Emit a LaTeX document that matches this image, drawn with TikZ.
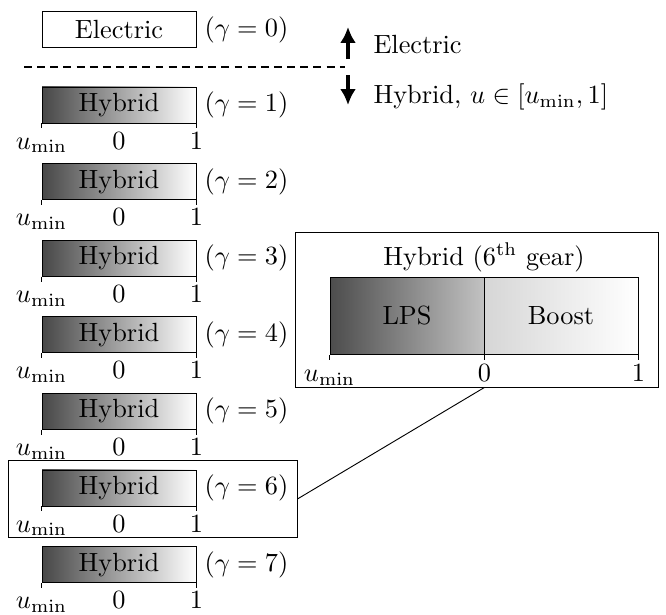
\documentclass[tikz,border=0pt]{standalone}
\usetikzlibrary{arrows.meta}
\begin{document}
\begin{tikzpicture}[x=0.38pt,y=-0.38pt,
  box/.style={draw,line width=0.35pt,minimum width=58.5pt,minimum height=13.7pt,inner sep=0pt},
  hyb/.style={box,left color=black!72,middle color=black!22,right color=white},
  lps/.style={draw,line width=0.35pt,minimum width=58.5pt,minimum height=29.6pt,inner sep=0pt,left color=black!70,right color=black!24},
  boost/.style={draw,line width=0.35pt,minimum width=58.5pt,minimum height=29.6pt,inner sep=0pt,left color=black!16,right color=white},
  gam/.style={anchor=west,inner sep=0pt},
  tick/.style={line width=0.35pt},
  lab/.style={anchor=base,inner sep=0pt},
  frm/.style={draw,line width=0.35pt,inner sep=0pt},
  bigarrow/.style={line width=1.4pt,-{Latex[length=6pt,width=6pt]}}]
\useasboundingbox (0,0) rectangle (666,615);
% Electric
\node[box] (e0) at (119,29.5) {Electric};
\node[gam] (g0) at (204,29.5) {$(\gamma=0)$};
% dashed separator
\coordinate (dl) at (24,67);
\coordinate (dr) at (345,67);
\draw[line width=0.8pt,dash pattern=on 3pt off 2pt] (dl) -- (dr);
% arrows
\coordinate (ua) at (348,59);
\coordinate (ub) at (348,27);
\coordinate (da) at (348,75);
\coordinate (db) at (348,105);
\draw[bigarrow] (ua) -- (ub);
\draw[bigarrow] (da) -- (db);
\node[anchor=west,inner sep=0pt] (te) at (373,45) {Electric};
\node[anchor=west,inner sep=0pt] (th) at (373,97) {Hybrid, $u\in[u_{\min},1]$};
% hybrid rows
\foreach \k in {1,...,7}{
  \pgfmathsetmacro{\yc}{105+76.6*(\k-1)}
  \node[hyb] (h\k) at (119,\yc) {Hybrid};
  \node[gam] (g\k) at (204,\yc) {$(\gamma=\k)$};
  \draw[tick] (h\k.south west) -- ++(0,5);
  \draw[tick] (h\k.south east) -- ++(0,5);
  \node[lab] (m\k) at ([yshift=-9.7pt]h\k.south west) {$u_{\min}$};
  \node[lab] (z\k) at ([yshift=-9.7pt]h\k.south) {$0$};
  \node[lab] (o\k) at ([yshift=-9.7pt]h\k.south east) {$1$};
}
% frame around gamma=6
\node[frm,minimum width=109.8pt,minimum height=29.6pt] (f6) at (152.5,499) {};
% inset
\node[frm,minimum width=137.6pt,minimum height=58.9pt] (ins) at (477,309.5) {};
\node[lab] (title) at (484,265) {Hybrid ($6^{\mathrm{th}}$ gear)};
\node[lps] (lps) at (407,316) {LPS};
\node[boost] (bst) at (561,316) {Boost};
\draw[tick] (lps.south west) -- ++(0,5);
\draw[tick] (lps.south east) -- ++(0,5);
\draw[tick] (bst.south east) -- ++(0,5);
\node[lab] (im) at ([yshift=-10pt]lps.south west) {$u_{\min}$};
\node[lab] (iz) at ([yshift=-10pt]lps.south east) {$0$};
\node[lab] (io) at ([yshift=-10pt]bst.south east) {$1$};
% connector
\draw[line width=0.35pt] (f6.east) -- (ins.south -| lps.south east);
\end{tikzpicture}
\end{document}
